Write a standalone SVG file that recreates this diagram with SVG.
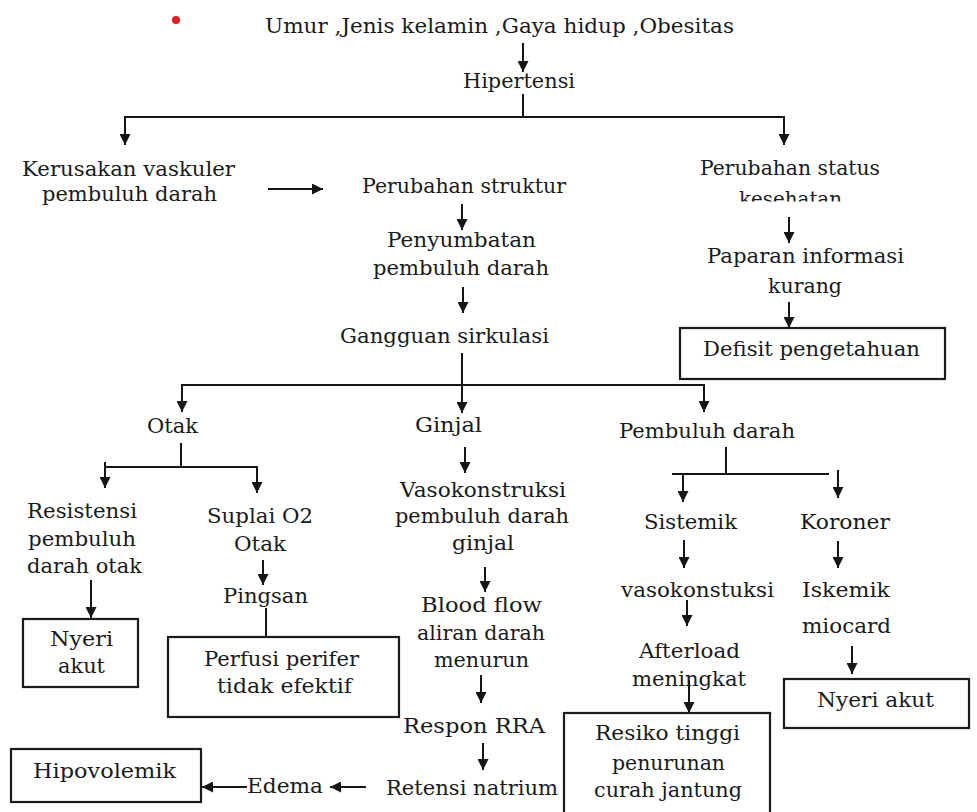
<svg xmlns="http://www.w3.org/2000/svg" width="977" height="812" viewBox="0 0 977 812">
<style>
text{font-family:"DejaVu Serif","Liberation Serif",serif;font-size:21px;fill:#1a1a1a}
.c line,.c path{stroke:#151515;stroke-width:2;fill:none}
.box{fill:none;stroke:#1a1a1a;stroke-width:2.2}
</style>
<defs>
<marker id="ah" markerUnits="userSpaceOnUse" markerWidth="11" markerHeight="11" refX="11" refY="5.5" orient="auto">
<path d="M0,0 L11,5.5 L0,11 z" fill="#151515"/>
</marker>
<clipPath id="clipKes"><rect x="700" y="180" width="200" height="21.5"/></clipPath>
</defs>
<rect width="977" height="812" fill="#fff"/>
<circle cx="176" cy="20" r="4" fill="#e31b1b"/>

<g id="n-faktor"><text x="265" y="33" textLength="469" lengthAdjust="spacingAndGlyphs">Umur ,Jenis kelamin ,Gaya hidup ,Obesitas</text></g>
<g id="n-hipertensi"><text x="463" y="88" textLength="112" lengthAdjust="spacingAndGlyphs">Hipertensi</text></g>
<g id="n-kerusakan"><text x="22" y="176" textLength="213" lengthAdjust="spacingAndGlyphs">Kerusakan vaskuler</text><text x="42" y="201" textLength="175" lengthAdjust="spacingAndGlyphs">pembuluh darah</text></g>
<g id="n-struktur"><text x="362" y="193" textLength="204" lengthAdjust="spacingAndGlyphs">Perubahan struktur</text></g>
<g id="n-status"><text x="700" y="175" textLength="180" lengthAdjust="spacingAndGlyphs">Perubahan status</text><text x="739" y="206" textLength="103" lengthAdjust="spacingAndGlyphs" clip-path="url(#clipKes)">kesehatan</text></g>
<g id="n-penyumbatan"><text x="387" y="247" textLength="149" lengthAdjust="spacingAndGlyphs">Penyumbatan</text><text x="373" y="275" textLength="176" lengthAdjust="spacingAndGlyphs">pembuluh darah</text></g>
<g id="n-paparan"><text x="707" y="263" textLength="197" lengthAdjust="spacingAndGlyphs">Paparan informasi</text><text x="768" y="293" textLength="74" lengthAdjust="spacingAndGlyphs">kurang</text></g>
<g id="n-gangguan"><text x="340" y="343" textLength="209" lengthAdjust="spacingAndGlyphs">Gangguan sirkulasi</text></g>
<g id="n-defisit"><rect class="box" x="680" y="328" width="265" height="51"/><text x="703" y="356" textLength="217" lengthAdjust="spacingAndGlyphs">Defisit pengetahuan</text></g>
<g id="n-otak"><text x="147" y="433" textLength="51" lengthAdjust="spacingAndGlyphs">Otak</text></g>
<g id="n-ginjal"><text x="415" y="432" textLength="67" lengthAdjust="spacingAndGlyphs">Ginjal</text></g>
<g id="n-pembuluh"><text x="619" y="438" textLength="176" lengthAdjust="spacingAndGlyphs">Pembuluh darah</text></g>
<g id="n-vasokonstruksi"><text x="400" y="497" textLength="166" lengthAdjust="spacingAndGlyphs">Vasokonstruksi</text><text x="395" y="523" textLength="174" lengthAdjust="spacingAndGlyphs">pembuluh darah</text><text x="452" y="550" textLength="62" lengthAdjust="spacingAndGlyphs">ginjal</text></g>
<g id="n-resistensi"><text x="27" y="518" textLength="110" lengthAdjust="spacingAndGlyphs">Resistensi</text><text x="28" y="546" textLength="108" lengthAdjust="spacingAndGlyphs">pembuluh</text><text x="27" y="573" textLength="115" lengthAdjust="spacingAndGlyphs">darah otak</text></g>
<g id="n-suplai"><text x="207" y="523" textLength="106" lengthAdjust="spacingAndGlyphs">Suplai O2</text><text x="234" y="551" textLength="52" lengthAdjust="spacingAndGlyphs">Otak</text></g>
<g id="n-pingsan"><text x="223" y="603" textLength="85" lengthAdjust="spacingAndGlyphs">Pingsan</text></g>
<g id="n-sistemik"><text x="644" y="529" textLength="93" lengthAdjust="spacingAndGlyphs">Sistemik</text></g>
<g id="n-koroner"><text x="800" y="529" textLength="90" lengthAdjust="spacingAndGlyphs">Koroner</text></g>
<g id="n-vasokonstuksi"><text x="621" y="597" textLength="153" lengthAdjust="spacingAndGlyphs">vasokonstuksi</text></g>
<g id="n-iskemik"><text x="802" y="597" textLength="88" lengthAdjust="spacingAndGlyphs">Iskemik</text><text x="802" y="633" textLength="89" lengthAdjust="spacingAndGlyphs">miocard</text></g>
<g id="n-bloodflow"><text x="421" y="612" textLength="121" lengthAdjust="spacingAndGlyphs">Blood flow</text><text x="417" y="640" textLength="128" lengthAdjust="spacingAndGlyphs">aliran darah</text><text x="434" y="667" textLength="95" lengthAdjust="spacingAndGlyphs">menurun</text></g>
<g id="n-afterload"><text x="639" y="658" textLength="101" lengthAdjust="spacingAndGlyphs">Afterload</text><text x="632" y="686" textLength="114" lengthAdjust="spacingAndGlyphs">meningkat</text></g>
<g id="n-nyeri1"><rect class="box" x="23" y="619" width="115" height="68"/><text x="50" y="646" textLength="63" lengthAdjust="spacingAndGlyphs">Nyeri</text><text x="58" y="673" textLength="47" lengthAdjust="spacingAndGlyphs">akut</text></g>
<g id="n-perfusi"><rect class="box" x="168" y="637" width="231" height="80"/><text x="204" y="666" textLength="155" lengthAdjust="spacingAndGlyphs">Perfusi perifer</text><text x="217" y="693" textLength="135" lengthAdjust="spacingAndGlyphs">tidak efektif</text></g>
<g id="n-nyeri2"><rect class="box" x="784" y="679" width="185" height="49"/><text x="817" y="707" textLength="117" lengthAdjust="spacingAndGlyphs">Nyeri akut</text></g>
<g id="n-respon"><text x="403" y="733" textLength="142" lengthAdjust="spacingAndGlyphs">Respon RRA</text></g>
<g id="n-resiko"><rect class="box" x="564" y="713" width="206" height="110"/><text x="595" y="740" textLength="145" lengthAdjust="spacingAndGlyphs">Resiko tinggi</text><text x="612" y="770" textLength="113" lengthAdjust="spacingAndGlyphs">penurunan</text><text x="594" y="797" textLength="148" lengthAdjust="spacingAndGlyphs">curah jantung</text></g>
<g id="n-hipovolemik"><rect class="box" x="11" y="749" width="190" height="53"/><text x="33" y="778" textLength="143" lengthAdjust="spacingAndGlyphs">Hipovolemik</text></g>
<g id="n-edema"><text x="247" y="793" textLength="76" lengthAdjust="spacingAndGlyphs">Edema</text></g>
<g id="n-retensi"><text x="386" y="795" textLength="172" lengthAdjust="spacingAndGlyphs">Retensi natrium</text></g>

<g id="connectors" class="c">
<line x1="523" y1="43" x2="523" y2="72" marker-end="url(#ah)"/>
<line x1="523" y1="94" x2="523" y2="117"/>
<line x1="124" y1="117" x2="785" y2="117"/>
<line x1="125" y1="117" x2="125" y2="145" marker-end="url(#ah)"/>
<line x1="784" y1="117" x2="784" y2="145" marker-end="url(#ah)"/>
<line x1="268" y1="189" x2="323" y2="189" marker-end="url(#ah)"/>
<line x1="462" y1="204" x2="462" y2="230" marker-end="url(#ah)"/>
<line x1="463" y1="287" x2="463" y2="313" marker-end="url(#ah)"/>
<line x1="789" y1="217" x2="789" y2="243" marker-end="url(#ah)"/>
<line x1="789" y1="302" x2="789" y2="328" marker-end="url(#ah)"/>
<line x1="462" y1="353" x2="462" y2="413" marker-end="url(#ah)"/>
<line x1="181" y1="385" x2="705" y2="385"/>
<line x1="182" y1="385" x2="182" y2="412" marker-end="url(#ah)"/>
<line x1="704" y1="385" x2="704" y2="412" marker-end="url(#ah)"/>
<line x1="181" y1="443" x2="181" y2="467"/>
<line x1="104" y1="467" x2="258" y2="467"/>
<line x1="105" y1="462" x2="105" y2="488" marker-end="url(#ah)"/>
<line x1="257" y1="467" x2="257" y2="493" marker-end="url(#ah)"/>
<line x1="465" y1="447" x2="465" y2="473" marker-end="url(#ah)"/>
<line x1="726" y1="447" x2="726" y2="474"/>
<line x1="672" y1="474" x2="829" y2="474"/>
<line x1="683" y1="474" x2="683" y2="502" marker-end="url(#ah)"/>
<line x1="838" y1="470" x2="838" y2="498" marker-end="url(#ah)"/>
<line x1="263" y1="560" x2="263" y2="585" marker-end="url(#ah)"/>
<line x1="266" y1="608" x2="266" y2="637"/>
<line x1="91" y1="580" x2="91" y2="618" marker-end="url(#ah)"/>
<line x1="485" y1="567" x2="485" y2="592" marker-end="url(#ah)"/>
<line x1="481" y1="675" x2="481" y2="703" marker-end="url(#ah)"/>
<line x1="483" y1="743" x2="483" y2="770" marker-end="url(#ah)"/>
<line x1="366" y1="787" x2="330" y2="787" marker-end="url(#ah)"/>
<line x1="247" y1="787" x2="202" y2="787" marker-end="url(#ah)"/>
<line x1="684" y1="540" x2="684" y2="568" marker-end="url(#ah)"/>
<line x1="838" y1="541" x2="838" y2="568" marker-end="url(#ah)"/>
<line x1="687" y1="600" x2="687" y2="626" marker-end="url(#ah)"/>
<line x1="689" y1="680" x2="689" y2="713" marker-end="url(#ah)"/>
<line x1="852" y1="646" x2="852" y2="674" marker-end="url(#ah)"/>
</g>
</svg>
